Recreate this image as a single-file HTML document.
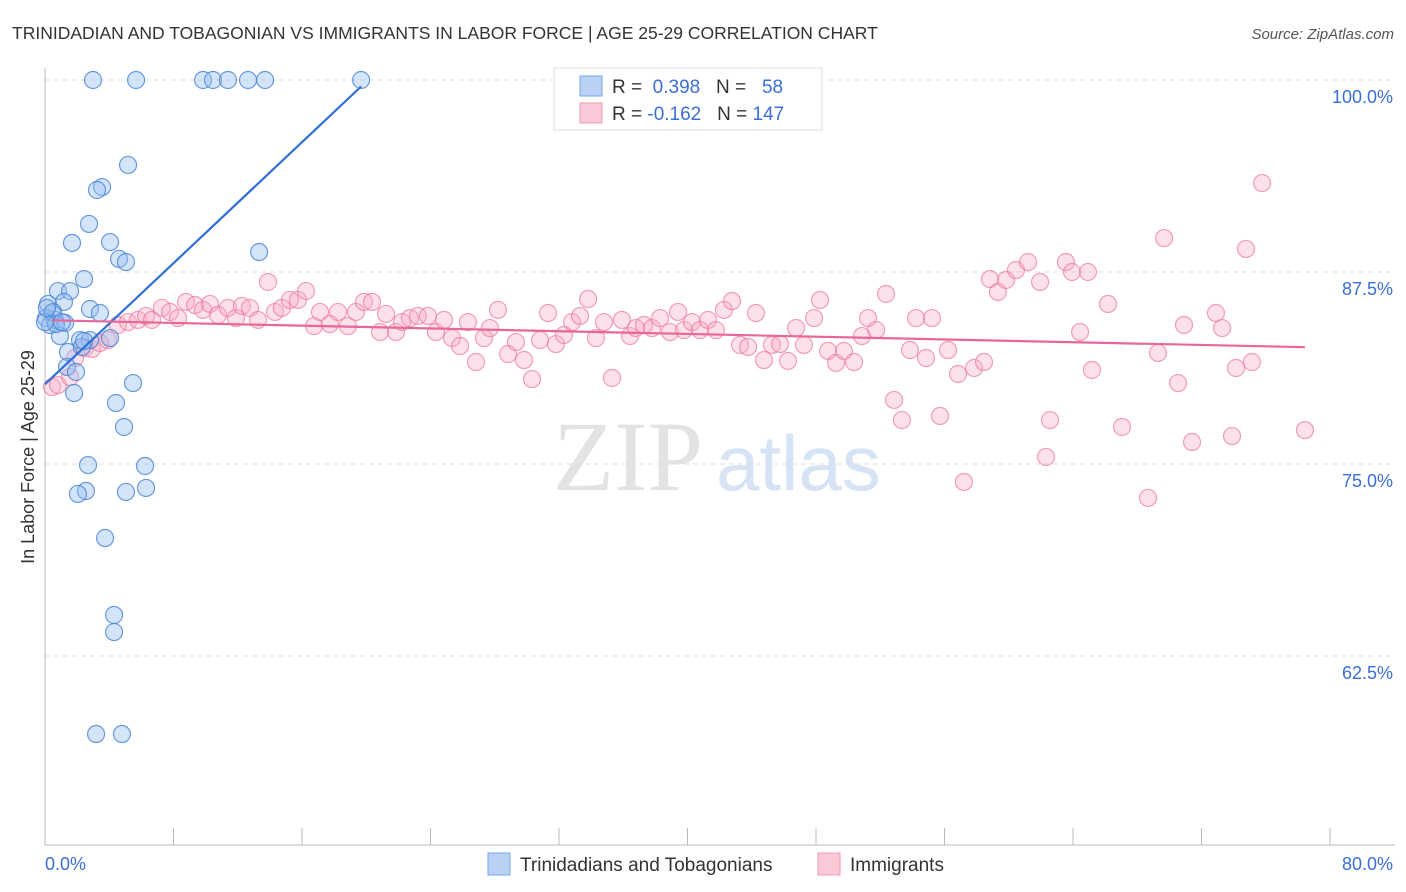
<!DOCTYPE html>
<html><head><meta charset="utf-8"><style>
body{margin:0;background:#fff;font-family:"Liberation Sans",sans-serif}
svg{display:block}
</style></head><body>
<svg id="chart" width="1406" height="892">
<text x="12" y="39" font-size="17.5" fill="#333">TRINIDADIAN AND TOBAGONIAN VS IMMIGRANTS IN LABOR FORCE | AGE 25-29 CORRELATION CHART</text>
<text x="1394" y="39" font-size="15" fill="#555" font-style="italic" text-anchor="end">Source: ZipAtlas.com</text>
<g>
<text x="553" y="490" font-family="Liberation Serif,serif" font-size="100" fill="#e3e3e3">ZIP</text>
<text x="716" y="490" font-size="78" fill="#d6e3f5">atlas</text>
</g>
<g id="grid"></g>
<g id="axes"></g>
<g id="marks"></g>
<text transform="translate(34,457) rotate(-90)" font-size="18" fill="#333" text-anchor="middle">In Labor Force | Age 25-29</text>
<text x="45" y="870" font-size="18" fill="#3a6fd8">0.0%</text>
<text x="1393" y="870" font-size="18" fill="#3a6fd8" text-anchor="end">80.0%</text>
<g>
<rect x="554" y="68" width="268" height="62" fill="#fff" stroke="#ddd"/>
<rect x="580" y="76" width="22" height="20" fill="#b8d1f5" stroke="#7aa6e6"/>
<text x="612" y="93" font-size="19" fill="#333">R = <tspan fill="#3a6fd8">&#160;0.398</tspan>&#160;&#160;&#160;N = <tspan fill="#3a6fd8">&#160;&#160;58</tspan></text>
<rect x="580" y="103" width="22" height="20" fill="#fac8d6" stroke="#f09ab2"/>
<text x="612" y="120" font-size="19" fill="#333">R = <tspan fill="#3a6fd8">-0.162</tspan>&#160;&#160;&#160;N = <tspan fill="#3a6fd8">147</tspan></text>
</g>
<g>
<rect x="488" y="853" width="22" height="22" fill="#b8d1f5" stroke="#7aa6e6"/>
<text x="520" y="871" font-size="19" fill="#333">Trinidadians and Tobagonians</text>
<rect x="818" y="853" width="22" height="22" fill="#fac8d6" stroke="#f09ab2"/>
<text x="850" y="871" font-size="19" fill="#333">Immigrants</text>
</g>
</svg>
<script>
const yTicks=[100,87.5,75,62.5];
const yTickLabels=["100.0%","87.5%","75.0%","62.5%"];
const xTicks=[0,8,16,24,32,40,48,56,64,72,80];
const blueX=[2.99,5.67,9.84,10.46,11.39,12.64,13.7,19.68,5.17,3.55,3.24,2.74,1.68,4.05,4.61,5.04,13.33,2.43,0.81,1.56,0.19,1.18,2.8,3.42,0.44,0.62,0.06,1.25,0.93,2.18,2.8,4.05,1.43,2.3,1.37,1.93,5.48,1.81,4.42,4.92,2.68,6.23,2.55,2.05,5.04,6.29,3.74,4.3,4.3,3.18,4.79,0.31,0.5,0.68,1.06,0,0.12,2.43];
const blueY=[100,100,100,100,100,100,100,100,94.47,93.03,92.84,90.63,89.39,89.45,88.35,88.15,88.8,87.04,86.26,86.26,85.42,85.55,85.09,84.83,84.83,84.38,84.5,84.18,83.33,83.07,83.07,83.2,82.29,82.62,81.32,80.99,80.27,79.62,78.97,77.41,74.93,74.87,73.24,73.05,73.18,73.44,70.18,65.17,64.06,57.42,57.42,84.05,84.9,84.11,84.24,84.24,85.16,83.01];
const pinkX=[0.44,0.81,1.56,1.87,2.49,2.93,3.42,3.92,4.54,5.17,5.79,6.29,6.66,7.28,7.78,8.28,8.78,9.34,9.84,10.27,10.77,11.39,11.89,12.26,12.76,13.26,13.88,14.32,14.75,15.25,15.75,16.25,16.75,17.12,17.74,18.24,18.86,19.36,19.86,20.36,20.86,21.23,21.85,22.23,22.72,23.22,23.84,24.34,24.84,25.34,25.84,26.33,26.83,27.33,27.7,28.2,28.83,29.32,29.82,30.32,30.82,31.32,31.81,32.31,32.81,33.31,33.81,34.3,34.8,35.3,35.92,36.42,36.79,37.29,37.79,38.29,38.91,39.41,39.78,40.28,40.78,41.28,41.77,42.27,42.77,43.27,43.77,44.26,44.76,45.26,45.76,46.26,46.76,47.25,47.88,48.25,48.75,49.25,49.74,50.37,50.86,51.24,51.74,52.36,52.86,53.35,53.85,54.23,54.85,55.22,55.72,56.22,56.84,57.21,57.84,58.46,58.83,59.33,59.83,60.45,61.2,61.95,62.57,62.32,63.56,63.94,64.44,64.93,65.18,66.18,67.05,68.67,69.29,69.67,70.54,70.91,71.41,72.9,73.28,73.9,74.15,74.77,75.14,75.77,78.44];
const pinkY=[80.01,80.14,80.66,81.9,82.55,82.49,82.88,83.07,84.05,84.24,84.38,84.64,84.38,85.16,84.9,84.5,85.55,85.35,85.03,85.42,84.7,85.16,84.5,85.29,85.16,84.38,86.85,84.9,85.16,85.68,85.68,86.26,83.98,84.9,84.11,84.9,83.98,84.9,85.55,85.55,83.59,84.77,83.59,84.24,84.5,84.64,84.64,83.59,84.38,83.2,82.68,84.24,81.64,83.2,83.85,85.03,82.16,82.94,81.77,80.53,83.07,84.83,82.81,83.4,84.24,84.64,85.74,83.2,84.24,80.6,84.38,83.33,83.85,84.05,83.85,84.5,83.59,84.9,83.72,84.24,83.72,84.38,83.72,85.03,85.61,82.75,82.62,84.83,81.77,82.75,82.81,81.71,83.85,82.75,84.5,85.68,82.36,81.58,82.36,81.64,83.33,84.5,83.72,86.07,79.17,77.86,82.42,84.5,81.9,84.5,78.13,82.42,80.86,73.83,81.25,81.64,87.04,86.2,86.98,87.63,88.15,86.85,77.86,75.46,88.15,87.5,83.59,87.5,81.12,85.42,77.41,72.79,82.23,89.71,80.27,84.05,76.43,84.83,83.85,76.82,81.25,89.0,81.64,93.29,77.21];

const NS="http://www.w3.org/2000/svg";
const X0=45,X1=1330,YTOP=80,YPX=192/12.5;
function sx(v){return X0+(v-0)/80*(X1-X0);}
function sy(v){return YTOP+(100-v)*YPX;}
function mk(tag,attrs,parent){const e=document.createElementNS(NS,tag);for(const k in attrs)e.setAttribute(k,attrs[k]);parent.appendChild(e);return e;}
const grid=document.getElementById('grid'),axes=document.getElementById('axes'),marks=document.getElementById('marks');
yTicks.forEach((t,i)=>{
  const l=mk('line',{x1:X0,x2:1395,y1:sy(t),y2:sy(t),stroke:'#ddd','stroke-dasharray':'5,4'},grid);
  
  
  const tx=mk('text',{x:1393,y:sy(t)+23,'font-size':18,fill:'#3a6fd8','text-anchor':'end'},grid);
  tx.textContent=yTickLabels[i];
  
  
});
const xa=mk('line',{x1:X0,x2:1395,y1:845,y2:845,stroke:'#bbb'},axes);


const ya=mk('line',{x1:X0,x2:X0,y1:68,y2:845,stroke:'#bbb'},axes);


xTicks.forEach(t=>{
  const l=mk('line',{x1:sx(t),x2:sx(t),y1:828,y2:845,stroke:'#bbb'},axes);
  
  
});
function dots(xs,ys,fill,stroke,name){
  xs.forEach((x,i)=>{
    const c=mk('circle',{cx:sx(x),cy:sy(ys[i]),r:8.5,fill:fill,stroke:stroke,'stroke-width':1.2},marks);
    
    
  });
}
function fit(xs,ys){const n=xs.length;let mx=0,my=0;for(let i=0;i<n;i++){mx+=xs[i];my+=ys[i];}mx/=n;my/=n;let a=0,b=0;for(let i=0;i<n;i++){a+=(xs[i]-mx)*(ys[i]-my);b+=(xs[i]-mx)**2;}const s=a/b;return [s,my-s*mx];}
function trend(xs,ys,color,name){
  const [s,c]=fit(xs,ys);const lo=Math.min(...xs),hi=Math.max(...xs);
  const l=mk('line',{x1:sx(lo),y1:sy(s*lo+c),x2:sx(hi),y2:sy(s*hi+c),stroke:color,'stroke-width':2.2},marks);
  
  
}
dots(pinkX,pinkY,'rgba(248,170,195,0.35)','rgba(236,120,155,0.7)','immigrants-point');
dots(blueX,blueY,'rgba(150,190,240,0.4)','rgba(70,130,215,0.8)','trinidadian-point');
trend(blueX,blueY,'#2f6fd6','trinidadian-trend-line');
trend(pinkX,pinkY,'#e8679a','immigrants-trend-line');
</script>
</body></html>
